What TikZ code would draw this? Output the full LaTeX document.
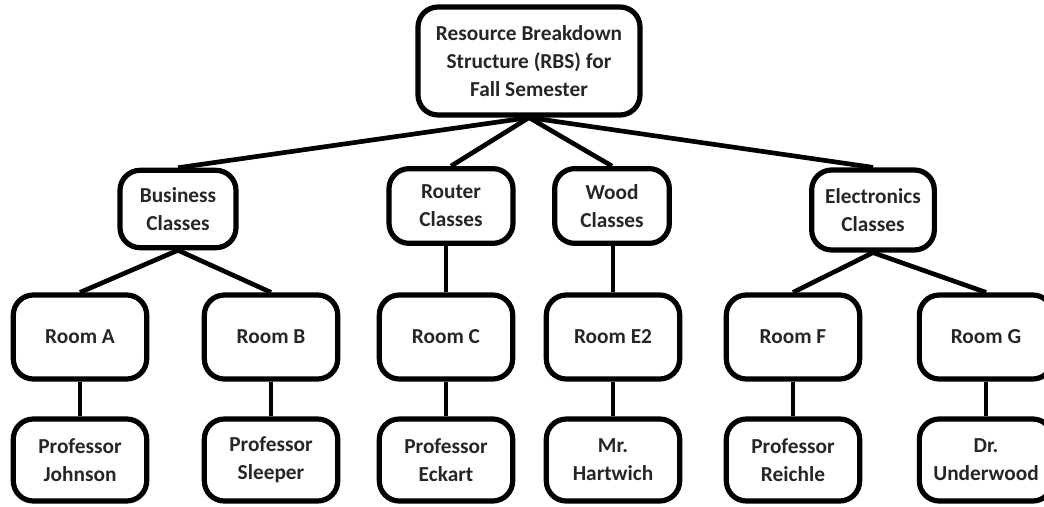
\documentclass[tikz,border=0pt]{standalone}
\usepackage{fontspec}
\setmainfont{Carlito}

\begin{document}
\begin{tikzpicture}[x=0.75pt, y=-0.75pt,
        box/.style={draw, line width=3.9pt, rounded corners=15pt, align=center, inner sep=0pt,
            font=\bfseries\fontsize{16}{21}\selectfont, text=black!85},
        room/.style={box, minimum width=100pt, minimum height=63pt},
        person/.style={box, minimum width=100pt, minimum height=61.5pt},
        link/.style={line width=3.5pt}]
            \useasboundingbox (0,0) rectangle (1044,506);
            \node[box, minimum width=166.5pt, minimum height=81pt] (rbs) at (529,61) {Resource Breakdown\\Structure (RBS) for\\Fall Semester};
            \node[box, minimum width=87pt, minimum height=58pt] (business) at (178,209) {Business\\Classes};
            \node[box, minimum width=93pt, minimum height=56pt] (router) at (451,206) {Router\\Classes};
            \node[box, minimum width=86pt, minimum height=56pt] (wood) at (612,206) {Wood\\Classes};
            \node[box, minimum width=92pt, minimum height=60pt] (electronics) at (873,210) {Electronics\\Classes};
            \node[room] (rA) at (80,337) {Room A};
            \node[room] (rB) at (271,337) {Room B};
            \node[room] (rC) at (446,337) {Room C};
            \node[room] (rE) at (613,337) {Room E2};
            \node[room] (rF) at (793,337) {Room F};
            \node[room] (rG) at (986,337) {Room G};
            \node[person] (pA) at (80,460) {Professor\\Johnson};
            \node[person] (pB) at (271,460) {Professor\\Sleeper};
            \node[person] (pC) at (446,460) {Professor\\Eckart};
            \node[person] (pE) at (613,460) {Mr.\\Hartwich};
            \node[person] (pF) at (793,460) {Professor\\Reichle};
            \node[person] (pG) at (986,460) {Dr.\\Underwood};
            \draw[link] (rbs.south) -- (business.north);
            \draw[link] (rbs.south) -- (router.north);
            \draw[link] (rbs.south) -- (wood.north);
            \draw[link] (rbs.south) -- (electronics.north);
            \draw[link] (business.south) -- (rA.north);
            \draw[link] (business.south) -- (rB.north);
            \draw[link] (rC.north) -- (rC.north |- router.south);
            \draw[link] (rE.north) -- (rE.north |- wood.south);
            \draw[link] (electronics.south) -- (rF.north);
            \draw[link] (electronics.south) -- (rG.north);
            \draw[link] (rA) -- (pA);
            \draw[link] (rB) -- (pB);
            \draw[link] (rC) -- (pC);
            \draw[link] (rE) -- (pE);
            \draw[link] (rF) -- (pF);
            \draw[link] (rG) -- (pG);
        \end{tikzpicture}
\end{document}
